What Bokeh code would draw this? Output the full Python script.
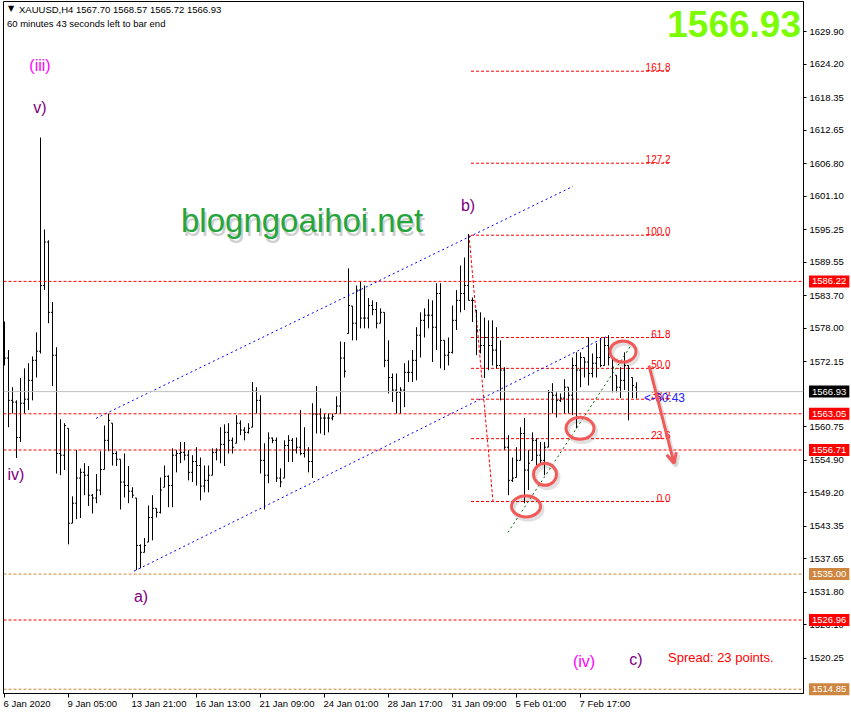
from bokeh.plotting import figure
from bokeh.models import (ColumnDataSource, Range1d, FixedTicker, NumeralTickFormatter,
                          Label, Arrow, OpenHead, Span)
from bokeh.core.properties import value
from bokeh.embed import file_html
from bokeh.resources import INLINE

# ---------------- data (XAUUSD H4) ----------------
bar_open = [
1576.0, 1572.8, 1565.4, 1565.1, 1558.9, 1564.9, 1565.6, 1568.9, 1572.4, 1574.0,
1585.5, 1593.1, 1580.8, 1573.3, 1556.1, 1555.8, 1560.5, 1543.9, 1547.4, 1551.8,
1552.8, 1552.3, 1548.8, 1548.3, 1549.7, 1553.3, 1558.4, 1561.4, 1556.1, 1555.1,
1551.1, 1550.5, 1549.5, 1548.3, 1540.0, 1538.8, 1540.6, 1544.9, 1546.5, 1545.8,
1550.2, 1552.1, 1550.5, 1555.8, 1556.1, 1556.3, 1555.8, 1552.8, 1554.7, 1554.0,
1550.4, 1551.4, 1552.3, 1556.3, 1556.7, 1557.7, 1559.8, 1558.4, 1557.9, 1561.4,
1560.2, 1559.8, 1560.7, 1567.0, 1565.4, 1554.9, 1552.3, 1558.8, 1558.4, 1551.8,
1551.8, 1557.5, 1558.4, 1556.7, 1557.2, 1556.1, 1556.7, 1554.7, 1563.0, 1563.0,
1562.3, 1562.3, 1562.3, 1563.1, 1564.4, 1572.8, 1577.1, 1581.9, 1578.9, 1584.7,
1579.8, 1579.8, 1582.0, 1581.3, 1578.9, 1580.8, 1572.4, 1569.4, 1567.2, 1566.8,
1567.2, 1570.3, 1570.3, 1572.4, 1576.8, 1579.4, 1580.3, 1580.3, 1578.2, 1584.1,
1575.9, 1573.3, 1573.8, 1579.4, 1582.9, 1584.1, 1585.5, 1582.9, 1581.2, 1577.7,
1575.0, 1576.4, 1575.0, 1574.2, 1571.5, 1570.7, 1557.2, 1551.4, 1551.9, 1554.9,
1559.6, 1553.2, 1554.9, 1558.4, 1555.8, 1554.9, 1557.2, 1566.8, 1566.3, 1565.4,
1565.8, 1567.7, 1566.3, 1571.5, 1570.7, 1572.9, 1572.1, 1570.1, 1571.9, 1572.9,
1571.5, 1575.0, 1572.9, 1569.8, 1567.7, 1568.9, 1571.5, 1569.4, 1567.70]
bar_high = [
1579.2, 1574.2, 1567.7, 1565.4, 1569.3, 1571.0, 1571.9, 1573.1, 1577.3, 1611.4,
1595.3, 1593.4, 1582.6, 1574.7, 1562.1, 1561.4, 1560.5, 1548.6, 1556.7, 1553.5,
1554.4, 1553.9, 1549.0, 1552.5, 1556.5, 1561.0, 1563.1, 1561.4, 1556.5, 1555.1,
1556.1, 1553.9, 1550.2, 1548.3, 1540.2, 1541.3, 1547.0, 1548.8, 1546.5, 1551.9,
1554.0, 1552.3, 1557.0, 1556.7, 1558.1, 1558.1, 1556.7, 1555.8, 1557.2, 1555.4,
1554.0, 1554.0, 1557.0, 1557.0, 1560.7, 1561.2, 1561.4, 1558.9, 1562.8, 1561.9,
1560.7, 1561.4, 1568.6, 1567.7, 1566.3, 1557.9, 1559.8, 1558.9, 1558.9, 1553.5,
1558.4, 1559.3, 1558.8, 1558.9, 1563.7, 1560.7, 1557.2, 1564.9, 1567.9, 1564.0,
1563.1, 1563.1, 1563.1, 1566.1, 1575.7, 1575.6, 1588.5, 1581.9, 1585.5, 1586.2,
1585.5, 1583.3, 1582.9, 1582.6, 1581.5, 1580.8, 1575.9, 1570.1, 1570.1, 1567.7,
1571.9, 1572.4, 1574.2, 1578.2, 1580.8, 1581.5, 1583.1, 1582.9, 1585.9, 1585.9,
1575.9, 1576.4, 1582.0, 1584.7, 1589.0, 1590.4, 1594.5, 1583.4, 1581.2, 1580.8,
1579.9, 1579.4, 1579.4, 1578.2, 1575.9, 1571.2, 1559.3, 1555.4, 1557.2, 1560.7,
1562.3, 1556.7, 1559.8, 1558.8, 1558.1, 1558.1, 1567.2, 1568.4, 1566.8, 1566.6,
1569.1, 1567.7, 1572.9, 1573.8, 1573.8, 1572.9, 1576.4, 1573.6, 1575.4, 1576.3,
1576.4, 1576.8, 1572.9, 1569.8, 1571.2, 1573.8, 1571.5, 1569.4, 1568.57]
bar_low = [
1571.5, 1560.7, 1563.1, 1555.3, 1558.1, 1563.1, 1563.7, 1565.4, 1569.4, 1573.6,
1584.7, 1578.9, 1567.9, 1552.6, 1552.3, 1553.2, 1540.2, 1543.9, 1544.6, 1544.8,
1548.8, 1546.9, 1545.6, 1547.4, 1548.8, 1553.3, 1556.5, 1554.0, 1553.9, 1546.3,
1548.4, 1547.4, 1548.3, 1535.7, 1536.0, 1538.8, 1540.6, 1540.9, 1544.9, 1545.6,
1550.2, 1546.7, 1546.7, 1552.8, 1554.4, 1554.9, 1551.4, 1551.1, 1550.5, 1547.9,
1549.3, 1549.3, 1552.3, 1554.9, 1554.4, 1553.9, 1556.1, 1556.1, 1557.9, 1559.3,
1558.4, 1559.6, 1560.7, 1563.1, 1552.6, 1546.3, 1550.9, 1557.9, 1551.1, 1550.2,
1551.8, 1554.6, 1554.6, 1556.1, 1555.8, 1555.4, 1552.8, 1551.8, 1559.6, 1559.6,
1559.3, 1559.8, 1561.9, 1563.1, 1563.1, 1569.4, 1577.1, 1575.9, 1575.9, 1578.0,
1578.0, 1578.0, 1580.3, 1578.0, 1578.9, 1571.2, 1566.6, 1565.1, 1563.1, 1563.1,
1564.2, 1568.6, 1568.6, 1568.9, 1572.9, 1576.4, 1578.0, 1572.1, 1574.2, 1571.0,
1570.7, 1571.5, 1573.6, 1577.7, 1580.8, 1581.2, 1582.9, 1579.1, 1573.3, 1573.6,
1569.3, 1570.7, 1571.5, 1571.0, 1565.4, 1556.7, 1548.8, 1551.1, 1551.9, 1554.9,
1547.4, 1549.7, 1554.9, 1554.0, 1554.4, 1552.3, 1557.2, 1563.1, 1562.4, 1565.1,
1563.1, 1563.1, 1562.8, 1560.5, 1567.7, 1569.4, 1568.0, 1569.4, 1569.4, 1571.2,
1571.5, 1571.5, 1566.8, 1566.8, 1565.8, 1567.2, 1561.9, 1565.8, 1565.72]
bar_close = [
1572.8, 1565.4, 1565.1, 1558.9, 1564.9, 1565.6, 1568.9, 1572.4, 1574.0, 1585.5,
1593.1, 1580.8, 1573.3, 1556.1, 1555.8, 1561.0, 1543.9, 1547.4, 1551.8, 1552.8,
1552.3, 1548.8, 1548.3, 1549.7, 1553.3, 1558.4, 1561.9, 1556.1, 1555.1, 1551.1,
1550.5, 1549.5, 1548.8, 1540.0, 1538.8, 1540.0, 1544.9, 1546.5, 1545.8, 1549.7,
1552.1, 1550.5, 1555.8, 1556.1, 1556.3, 1555.8, 1552.8, 1554.7, 1554.0, 1550.4,
1551.4, 1552.3, 1556.3, 1556.7, 1557.7, 1559.8, 1558.4, 1557.2, 1561.4, 1560.2,
1559.8, 1560.5, 1567.0, 1565.4, 1554.9, 1552.3, 1558.8, 1558.4, 1551.8, 1551.1,
1557.5, 1558.4, 1556.7, 1557.2, 1556.1, 1556.7, 1554.7, 1563.0, 1563.0, 1562.3,
1562.3, 1562.3, 1562.6, 1564.4, 1572.8, 1570.5, 1582.0, 1578.9, 1584.7, 1579.8,
1579.8, 1582.0, 1581.3, 1578.9, 1580.8, 1572.4, 1569.4, 1567.2, 1566.8, 1567.2,
1570.3, 1570.3, 1572.4, 1576.8, 1579.4, 1580.3, 1580.3, 1578.2, 1584.1, 1575.9,
1573.3, 1573.8, 1579.4, 1582.9, 1584.1, 1585.5, 1582.9, 1582.9, 1577.7, 1575.0,
1576.4, 1575.0, 1574.2, 1571.5, 1570.7, 1557.2, 1551.4, 1551.8, 1554.9, 1559.6,
1553.2, 1554.4, 1558.4, 1555.8, 1554.9, 1557.2, 1566.8, 1566.3, 1565.4, 1565.8,
1567.7, 1566.3, 1571.5, 1570.7, 1572.9, 1572.1, 1570.1, 1571.9, 1572.9, 1571.5,
1575.0, 1572.9, 1571.2, 1567.7, 1568.9, 1571.5, 1571.0, 1568.0, 1566.93]

time_tick_bars = [0, 16, 32, 48, 64, 80, 96, 112, 128, 144]
time_tick_labels = ["6 Jan 2020", "9 Jan 05:00", "13 Jan 21:00", "16 Jan 13:00",
                    "21 Jan 09:00", "24 Jan 01:00", "28 Jan 17:00", "31 Jan 09:00",
                    "5 Feb 01:00", "7 Feb 17:00"]
price_ticks = [1629.90, 1624.20, 1618.35, 1612.65, 1606.80, 1601.10, 1595.25, 1589.55,
               1583.70, 1578.00, 1572.15, 1560.75, 1554.90, 1549.20, 1543.35, 1537.65,
               1531.80, 1526.10, 1520.25]

red_levels = [1586.22, 1563.05, 1556.71, 1526.96]
brown_levels = [1535.00, 1514.85]
last_price = 1566.93

fib_texts = ["0.0", "23.6", "38.2", "50.0", "61.8", "100.0", "127.2", "161.8"]
fib_prices = [1547.7, 1558.7, 1565.6, 1571.0, 1576.4, 1594.3, 1606.9, 1623.0]
fib_bar_start, fib_bar_end = 116.625, 166.625
fib_diag_x = [116.125, 122.125]
fib_diag_y = [1594.3, 1547.7]

chan_up_x = [22.875, 142.125]
chan_up_y = [1562.25, 1602.85]
chan_lo_x = [32.375, 150.625]
chan_lo_y = [1535.5, 1576.6]
green_x = [125.875, 156.625]
green_y = [1542.3, 1575.0]

circle_x = [130.375, 135.125, 143.875, 154.625]
circle_y = [1546.85, 1552.45, 1560.5, 1573.95]
circle_w = [7.25, 5.75, 7.0, 6.5]
circle_h = [3.7, 3.85, 3.85, 3.7]

arrow_x = [161.125, 167.375]
arrow_y = [1571.5, 1554.4]

wave_text = ["(iii)", "v)", "iv)", "a)", "b)", "(iv)", "c)"]
wave_x = [8.875, 8.875, 2.875, 34.125, 115.875, 144.875, 157.875]
wave_y = [1624.0, 1616.7, 1552.45, 1531.1, 1599.5, 1519.7, 1520.1]
wave_color = ["#ff00ff", "#800080", "#800080", "#800080", "#800080", "#ff00ff", "#800080"]

box_prices = [1586.22, 1563.05, 1556.71, 1526.96, 1535.00, 1514.85, last_price]
box_colors = ["#ff0000", "#ff0000", "#ff0000", "#ff0000", "#cd853f", "#cd853f", "#000000"]

# ---------------- figure ----------------
X0, X1 = -0.25, 199.75
p = figure(frame_width=800, frame_height=692,
           x_range=Range1d(X0, X1), y_range=Range1d(1514.1, 1635.2),
           output_backend="svg", toolbar_location=None, y_axis_location="right",
           min_border_left=3, min_border_top=1, min_border_right=45, min_border_bottom=22)
p.background_fill_color = "white"
p.border_fill_color = "white"
p.outline_line_color = "black"
p.outline_line_width = 1
p.xgrid.visible = False
p.ygrid.visible = False

FONT = "Liberation Sans"
CORAL = "#f25a5a"

# axes
p.yaxis.ticker = FixedTicker(ticks=price_ticks)
p.yaxis.formatter = NumeralTickFormatter(format="0.00")
p.yaxis.major_tick_in = 0
p.yaxis.major_tick_out = 3
p.yaxis.minor_tick_line_color = None
p.yaxis.major_label_standoff = 3
p.yaxis.major_label_text_font = FONT
p.yaxis.major_label_text_font_size = "9.5px"
p.yaxis.major_label_text_color = "black"
p.yaxis.axis_line_color = "black"

p.xaxis.ticker = FixedTicker(ticks=time_tick_bars)
p.xaxis.major_label_overrides = {t: "" for t in time_tick_bars}
p.xaxis.major_tick_in = 0
p.xaxis.major_tick_out = 4
p.xaxis.minor_tick_line_color = None
p.xaxis.axis_line_color = "black"
p.xaxis.major_label_text_font_size = "1px"

# horizontal levels
p.add_layout(Span(location=last_price, dimension="width", line_color="#c0c0c0", line_width=1))
for lvl in red_levels:
    p.add_layout(Span(location=lvl, dimension="width", line_color="#ff0000",
                      line_width=1, line_dash="3 2"))
for lvl in brown_levels:
    p.add_layout(Span(location=lvl, dimension="width", line_color="#cd853f",
                      line_width=1, line_dash="3 2"))

# fibonacci
p.segment(x0=[fib_bar_start] * len(fib_prices), y0=fib_prices,
          x1=[fib_bar_end] * len(fib_prices), y1=fib_prices,
          line_color="#ff0000", line_width=1, line_dash="3 2")
p.line(fib_diag_x, fib_diag_y, line_color="#ff0000", line_width=1, line_dash="3 2")
p.text(x=[fib_bar_end - 0.1] * len(fib_prices), y=fib_prices, text=fib_texts,
       text_font=value(FONT), text_font_size="10px", text_color="#ff0000",
       text_align="right", text_baseline="bottom")

# OHLC bars
idx = list(range(len(bar_close)))
src = ColumnDataSource(dict(x=idx, xl=[i - 0.375 for i in idx], xr=[i + 0.375 for i in idx],
                            o=bar_open, h=bar_high, l=bar_low, c=bar_close))
p.segment(x0="x", y0="l", x1="x", y1="h", source=src, line_color="black", line_width=1)
p.segment(x0="xl", y0="o", x1="x", y1="o", source=src, line_color="black", line_width=1)
p.segment(x0="x", y0="c", x1="xr", y1="c", source=src, line_color="black", line_width=1)

# trend lines
p.line(chan_up_x, chan_up_y, line_color="#0000ff", line_width=1, line_dash="2 3")
p.line(chan_lo_x, chan_lo_y, line_color="#0000ff", line_width=1, line_dash="2 3")
p.line(green_x, green_y, line_color="#006400", line_width=1, line_dash="2 3")

# circles and arrow (with a soft drop shadow)
p.ellipse(x=[v + 0.5 for v in circle_x], y=[v - 0.5 for v in circle_y],
          width=circle_w, height=circle_h, fill_color=None,
          line_color="#000000", line_alpha=0.12, line_width=4)
p.ellipse(x=circle_x, y=circle_y, width=circle_w, height=circle_h,
          fill_color=None, line_color=CORAL, line_width=3)
p.add_layout(Arrow(end=OpenHead(size=10, line_color="#000000", line_alpha=0.12, line_width=4),
                   x_start=arrow_x[0] + 0.5, y_start=arrow_y[0] - 0.5,
                   x_end=arrow_x[1] + 0.5, y_end=arrow_y[1] - 0.5,
                   line_color="#000000", line_alpha=0.12, line_width=4))
p.add_layout(Arrow(end=OpenHead(size=10, line_color=CORAL, line_width=3),
                   x_start=arrow_x[0], y_start=arrow_y[0], x_end=arrow_x[1], y_end=arrow_y[1],
                   line_color=CORAL, line_width=3))

# wave labels
p.text(x=wave_x, y=wave_y, text=wave_text, text_color=wave_color,
       text_font=value(FONT), text_font_size="16px", text_align="center",
       text_baseline="middle")

# other texts
p.text(x=[44.125], y=[1596.8], text=["blogngoaihoi.net"], text_color="#777777",
       text_alpha=0.35, x_offset=2, y_offset=4,
       text_font=value(FONT), text_font_size="33px", text_baseline="middle")
p.text(x=[44.125], y=[1596.8], text=["blogngoaihoi.net"], text_color="#25a53b",
       text_font=value(FONT), text_font_size="33px", text_baseline="middle")
p.text(x=[199.125], y=[1631.2], text=["%.2f" % last_price], text_color="#7cfc00",
       text_font=value(FONT), text_font_size="37px", text_font_style="bold",
       text_align="right", text_baseline="middle")
p.text(x=[165.875], y=[1520.4], text=["Spread: 23 points."], text_color="#ff0000",
       text_font=value(FONT), text_font_size="13px", text_baseline="middle")
p.text(x=[159.875], y=[1565.75], text=["<-60:43"], text_color="#2020ff",
       text_font=value(FONT), text_font_size="12px", text_baseline="middle")

# header
p.text(x=[1.625], y=[1633.9], text=["\u25bc"], text_color="black",
       text_font=value("DejaVu Sans"), text_font_size="8px", text_align="center",
       text_baseline="middle")
p.text(x=[3.625], y=[1633.8],
       text=["XAUUSD,H4  %.2f %.2f %.2f %.2f" % (bar_open[-1], bar_high[-1], bar_low[-1], bar_close[-1])],
       text_color="black", text_font=value(FONT), text_font_size="9.5px", text_baseline="middle")
p.text(x=[0.625], y=[1631.4], text=["60 minutes 43 seconds left to bar end"],
       text_color="black", text_font=value(FONT), text_font_size="9.5px", text_baseline="middle")

# time labels below the frame (MT4 style, left-aligned at the tick)
for t, s in zip(time_tick_bars, time_tick_labels):
    p.add_layout(Label(x=t, y=1512.4, text=s, text_align="left", text_baseline="middle",
                       text_font=FONT, text_font_size="9.5px", text_color="black",
                       x_offset=-1), "below")

# price boxes on the right axis
for lvl, col in zip(box_prices, box_colors):
    p.add_layout(Label(x=201.125, y=lvl, text="%.2f" % lvl, text_align="left",
                       text_baseline="middle", text_font=FONT, text_font_size="9.5px",
                       text_color="white", background_fill_color=col, padding=3), "right")

open("out.html", "w").write(file_html(p, INLINE))
